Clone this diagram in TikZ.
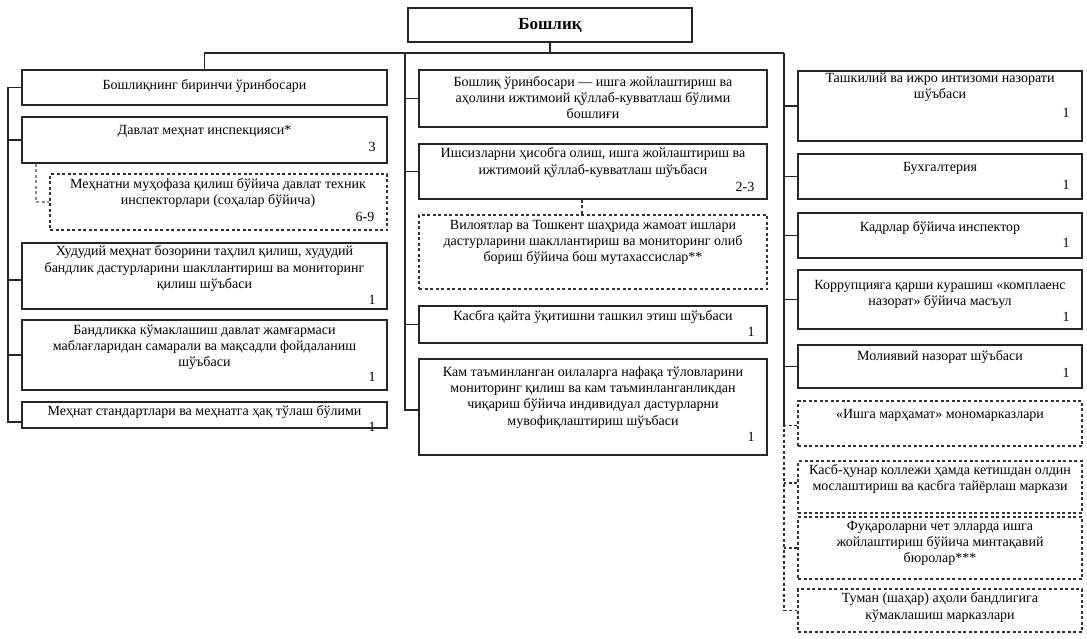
\documentclass[tikz,border=0pt]{standalone}
\usepackage{fontspec}
\setmainfont{Liberation Serif}
\usetikzlibrary{fit}
\tikzset{
  box/.style={draw=black!85, line width=1.25pt, inner sep=0pt},
  dbox/.style={draw=black!80, line width=1.2pt, dash pattern=on 3pt off 2.5pt, inner sep=0pt},
  conn/.style={draw=black!85, line width=1.25pt},
  dconn/.style={draw=black!80, line width=1.1pt, dash pattern=on 3pt off 2.5pt},
  lconn/.style={draw=black!45, line width=1.1pt, dash pattern=on 3pt off 2.5pt},
  txt/.style={align=center, inner sep=0pt, font=\fontsize{14}{16.2}\selectfont},
  num/.style={inner sep=0pt, font=\fontsize{14}{16}\selectfont},
}
\begin{document}
\begin{tikzpicture}[x=1pt, y=-1pt]
\useasboundingbox (0,0) rectangle (1087,638);
% top
\node[box, fit={(408,8) (692,42)}] (boss) {};
\node[txt, font=\fontsize{17}{19}\selectfont\bfseries] (bosst) at (550,25) {Бошлиқ};
% left column
\node[box, fit={(22,70) (387,105)}] (L1) {};
\node[box, fit={(22,117) (387,163)}] (L2) {};
\node[dbox, fit={(50,174) (387,230)}] (L3) {};
\node[box, fit={(22,243) (387,309)}] (L4) {};
\node[box, fit={(22,320) (387,390)}] (L5) {};
\node[box, fit={(22,402) (387,428)}] (L6) {};
\node[txt] (L1t) at (204.5,86) {Бошлиқнинг биринчи ўринбосари};
\node[txt] (L2t) at (204.5,131) {Давлат меҳнат инспекцияси*};
\node[num] (L2n) at (372,147) {3};
\node[txt] (L3t) at (218,193) {Меҳнатни муҳофаза қилиш бўйича давлат техник\\инспекторлари (соҳалар бўйича)};
\node[num] (L3n) at (365,217) {6-9};
\node[txt] (L4t) at (204.5,268.5) {Худудий меҳнат бозорини таҳлил қилиш, худудий\\бандлик дастурларини шакллантириш ва мониторинг\\қилиш шўъбаси};
\node[num] (L4n) at (372,300) {1};
\node[txt] (L5t) at (204.5,347.5) {Бандликка кўмаклашиш давлат жамғармаси\\маблағларидан самарали ва мақсадли фойдаланиш\\шўъбаси};
\node[num] (L5n) at (372,377) {1};
\node[txt] (L6t) at (204.5,411.5) {Меҳнат стандартлари ва меҳнатга ҳақ тўлаш бўлими};
\node[num] (L6n) at (372,427) {1};
% middle column
\node[box, fit={(419,70) (767,127)}] (M1) {};
\node[box, fit={(419,144) (767,199)}] (M2) {};
\node[dbox, fit={(419,215) (767,289)}] (M3) {};
\node[box, fit={(419,306) (767,343)}] (M4) {};
\node[box, fit={(419,359) (767,455)}] (M5) {};
\node[txt] (M1t) at (593,97.5) {Бошлиқ ўринбосари — ишга жойлаштириш ва\\аҳолини ижтимоий қўллаб-кувватлаш бўлими\\бошлиғи};
\node[txt] (M2t) at (593,162.5) {Ишсизларни ҳисобга олиш, ишга жойлаштириш ва\\ижтимоий қўллаб-кувватлаш шўъбаси};
\node[num] (M2n) at (745,187) {2-3};
\node[txt] (M3t) at (593,242.5) {Вилоятлар ва Тошкент шаҳрида жамоат ишлари\\дастурларини шакллантириш ва мониторинг олиб\\бориш бўйича бош мутахассислар**};
\node[txt] (M4t) at (593,316.5) {Касбга қайта ўқитишни ташкил этиш шўъбаси};
\node[num] (M4n) at (751,332) {1};
\node[txt] (M5t) at (593,397.5) {Кам таъминланган оилаларга нафақа тўловларини\\мониторинг қилиш ва кам таъминланганликдан\\чиқариш бўйича индивидуал дастурларни\\мувофиқлаштириш шўъбаси};
\node[num] (M5n) at (751,437) {1};
% right column
\node[box, fit={(798,71) (1082,141)}] (R1) {};
\node[box, fit={(798,154) (1082,199)}] (R2) {};
\node[box, fit={(798,213) (1082,258)}] (R3) {};
\node[box, fit={(798,270) (1082,329)}] (R4) {};
\node[box, fit={(798,345) (1082,388)}] (R5) {};
\node[dbox, fit={(798,401) (1082,446)}] (R6) {};
\node[dbox, fit={(798,461) (1082,513)}] (R7) {};
\node[dbox, fit={(798,517) (1082,579)}] (R8) {};
\node[dbox, fit={(798,589) (1082,632)}] (R9) {};
\node[txt] (R1t) at (940,87.5) {Ташкилий ва ижро интизоми назорати\\шўъбаси};
\node[num] (R1n) at (1066,113) {1};
\node[txt] (R2t) at (940,168.5) {Бухгалтерия};
\node[num] (R2n) at (1066,185) {1};
\node[txt] (R3t) at (940,227.5) {Кадрлар бўйича инспектор};
\node[num] (R3n) at (1066,243) {1};
\node[txt] (R4t) at (940,294.5) {Коррупцияга қарши курашиш «комплаенс\\назорат» бўйича масъул};
\node[num] (R4n) at (1066,317) {1};
\node[txt] (R5t) at (940,356.5) {Молиявий назорат шўъбаси};
\node[num] (R5n) at (1066,373) {1};
\node[txt] (R6t) at (940,415.5) {«Ишга марҳамат» мономарказлари};
\node[txt] (R7t) at (940,479) {Касб-ҳунар коллежи ҳамда кетишдан олдин\\мослаштириш ва касбга тайёрлаш маркази};
\node[txt] (R8t) at (940,543.5) {Фуқароларни чет элларда ишга\\жойлаштириш бўйича минтақавий\\бюролар***};
\node[txt] (R9t) at (940,607.5) {Туман (шаҳар) аҳоли бандлигига\\кўмаклашиш марказлари};
% coordinates
\coordinate (busL) at (L1.north |- 0,53);
\coordinate (busR) at (784,53);
\coordinate (lt) at (8,0);
\coordinate (mt) at (405,0);
\coordinate (rt) at (784,0);
% main bus
\draw[conn] (boss.south) -- (boss.south |- busR);
\draw[conn] (L1.north) -- (busL) -- (busR);
\draw[conn] (mt |- busR) -- ([yshift=-3pt]mt |- M5.west) -- ([yshift=-3pt]M5.west);
\draw[conn] (busR) -- ([yshift=-2pt]rt |- R6.west);
% left branches
\draw[conn] (L1.west) -- (lt |- L1.west) -- ([yshift=-7pt]lt |- L6.west) -- ([yshift=-7pt]L6.west);
\draw[conn] (L2.west) -- (lt |- L2.west);
\draw[conn] ([yshift=-4pt]L4.west) -- ([yshift=-4pt]lt |- L4.west);
\draw[conn] (L5.west) -- (lt |- L5.west);
\draw[lconn] (L2.south -| 36,0) |- (L3.west |- 0,202);
% middle branches
\draw[conn] (M1.west) -- (mt |- M1.west);
\draw[conn] (M2.west) -- (mt |- M2.west);
\draw[conn] (M4.west) -- (mt |- M4.west);
\draw[dconn] (M2.south -| 582,0) -- (M3.north -| 582,0);
% right branches
\draw[conn] (R1.west) -- (rt |- R1.west);
\draw[conn] (R2.west) -- (rt |- R2.west);
\draw[conn] (R3.west) -- (rt |- R3.west);
\draw[conn] (R4.west) -- (rt |- R4.west);
\draw[conn] (R5.west) -- (rt |- R5.west);
\draw[dconn] ([yshift=-2pt]R6.west) -- ([yshift=-2pt]rt |- R6.west) -- (rt |- R9.west) -- (R9.west);
\draw[dconn] ([yshift=4pt]R7.west) -- ([yshift=4pt]rt |- R7.west);
\draw[dconn] (R8.west) -- (rt |- R8.west);
\end{tikzpicture}
\end{document}
